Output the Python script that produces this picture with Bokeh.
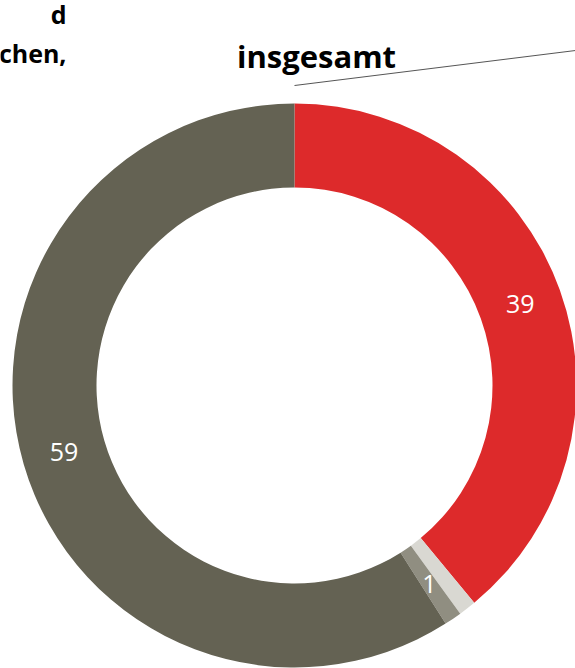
import numpy as np
from bokeh.plotting import figure
from bokeh.models import ColumnDataSource, Range1d
from bokeh.core.properties import value
from bokeh.embed import file_html
from bokeh.resources import INLINE

# ---- data ----
categories = ["A", "B", "C", "D"]
values = [39, 1, 1, 59]
labels = ["39", "", "1", "59"]
colors = ["#dd2a2b", "#d9d8d2", "#908e81", "#646253"]
title_text = "insgesamt"
side_lines = ["d", "chen,"]

W, H = 575, 668
p = figure(width=W, height=H, output_backend="svg", toolbar_location=None,
           x_range=Range1d(0, W), y_range=Range1d(0, H),
           min_border=0, outline_line_color=None)
p.axis.visible = False
p.grid.visible = False
p.background_fill_color = "white"
p.border_fill_color = "white"

cx, cy = 294, 283
r_out, r_in = 282, 198

vals = np.array(values, dtype=float)
frac = vals / vals.sum()
cum = np.concatenate([[0], np.cumsum(frac)])
start = np.pi / 2 - cum[:-1] * 2 * np.pi
end = np.pi / 2 - cum[1:] * 2 * np.pi
mid = (start + end) / 2
r_lab = (r_out + r_in) / 2

src = ColumnDataSource(dict(
    cat=categories, start=start, end=end, color=colors,
    lx=cx + r_lab * np.cos(mid), ly=cy + r_lab * np.sin(mid), label=labels,
))

p.annular_wedge(x=cx, y=cy, inner_radius=r_in, outer_radius=r_out,
                start_angle="start", end_angle="end", direction="clock",
                fill_color="color", line_color=None, source=src)

p.text(x="lx", y="ly", text="label", source=src, text_color="white",
       text_font=value("Open Sans"), text_font_size="25px",
       text_align="center", text_baseline="middle")

# title
p.text(x=[316], y=[613], text=[title_text], text_font=value("Open Sans"),
       text_font_style="bold", text_font_size="31px", text_color="black",
       text_align="center", text_baseline="alphabetic")

# cut-off neighbouring title
p.text(x=[66, 66], y=[655, 616], text=side_lines, text_font=value("Open Sans"),
       text_font_style="bold", text_font_size="25px", text_color="black",
       text_align="right", text_baseline="alphabetic")

# leader line
p.line(x=[294, 575], y=[583, 618], line_color="#555555", line_width=1)

open("out.html", "w").write(file_html(p, INLINE))
